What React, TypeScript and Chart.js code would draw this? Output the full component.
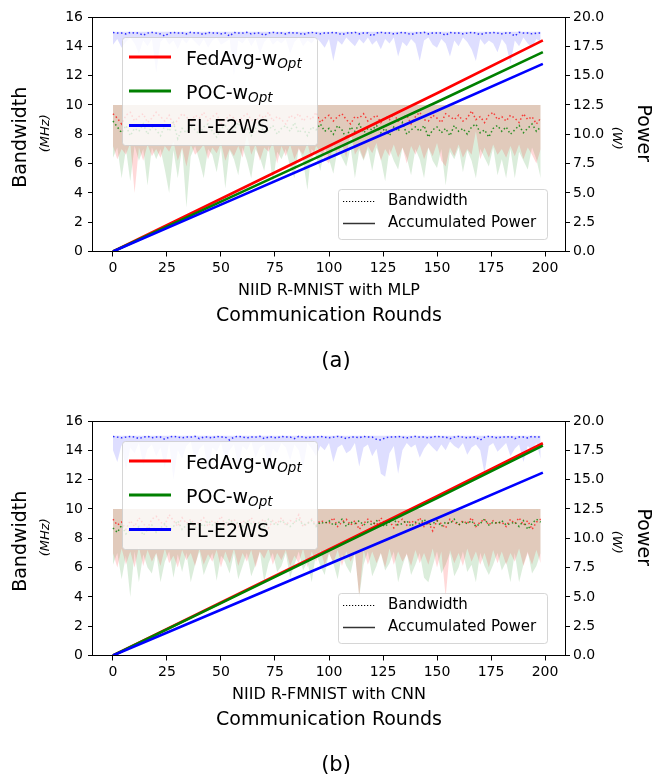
import React, { useEffect, useRef } from 'react';
import { Chart, registerables } from 'chart.js';

Chart.register(...registerables);

const FONT = "'DejaVu Sans', sans-serif";

// ---------------- data ----------------
const ROUNDS: number[] = [
  0, 2, 4, 6, 8, 10, 12, 14, 16, 18, 20, 22, 24, 26, 28, 30, 32, 34, 36, 38,
  40, 42, 44, 46, 48, 50, 52, 54, 56, 58, 60, 62, 64, 66, 68, 70, 72, 74, 76, 78,
  80, 82, 84, 86, 88, 90, 92, 94, 96, 98, 100, 102, 104, 106, 108, 110, 112, 114, 116, 118,
  120, 122, 124, 126, 128, 130, 132, 134, 136, 138, 140, 142, 144, 146, 148, 150, 152, 154, 156, 158,
  160, 162, 164, 166, 168, 170, 172, 174, 176, 178, 180, 182, 184, 186, 188, 190, 192, 194, 196, 198,
];
const POWER_ROUNDS: number[] = [0, 50, 100, 150, 199];
const X_TICKS: number[] = [0, 25, 50, 75, 100, 125, 150, 175, 200];
const Y_LEFT_TICKS: number[] = [0, 2, 4, 6, 8, 10, 12, 14, 16];
const Y_RIGHT_TICKS: number[] = [0, 2.5, 5, 7.5, 10, 12.5, 15, 17.5, 20];
const RG_BAND_TOP = 10;
const E2WS_BAND_TOP = 15;

// (a) NIID R-MNIST with MLP
const BW_E2WS_A: number[] = [
  14.95, 14.9, 14.9, 14.85, 14.95, 14.9, 14.9, 14.75, 14.9, 14.95,
  14.9, 14.85, 14.7, 14.9, 14.95, 14.9, 14.9, 14.85, 14.95, 14.9,
  14.9, 14.8, 14.95, 14.9, 14.9, 14.85, 14.9, 14.7, 14.95, 14.9,
  14.9, 14.95, 14.85, 14.9, 14.9, 14.75, 14.9, 14.95, 14.9, 14.9,
  14.85, 14.95, 14.9, 14.9, 14.8, 14.9, 14.95, 14.9, 14.85, 14.9,
  14.9, 14.95, 14.9, 14.8, 14.9, 14.9, 14.95, 14.85, 14.9, 14.9,
  14.7, 14.9, 14.95, 14.9, 14.9, 14.85, 14.9, 14.95, 14.9, 14.8,
  14.9, 14.9, 14.95, 14.85, 14.9, 14.9, 14.9, 14.75, 14.95, 14.9,
  14.9, 14.85, 14.9, 14.95, 14.9, 14.8, 14.9, 14.9, 14.95, 14.9,
  14.85, 14.9, 14.9, 14.7, 14.95, 14.9, 14.9, 14.85, 14.9, 14.9,
];
const LOW_E2WS_A: number[] = [
  14.1, 14.5, 13.9, 14.3, 14.6, 14.2, 13.5, 14.4, 14.0, 14.5,
  12.2, 14.3, 14.6, 14.1, 14.4, 13.8, 14.5, 14.2, 14.6, 14.3,
  14.0, 14.5, 13.9, 14.4, 14.6, 14.1, 14.3, 14.5, 12.0, 14.4,
  14.2, 14.6, 14.0, 14.5, 13.5, 14.3, 14.6, 14.1, 14.4, 14.2,
  14.5, 13.5, 14.3, 14.6, 14.0, 14.4, 14.2, 14.6, 14.3, 13.9,
  14.5, 13.0, 14.4, 14.1, 14.6, 14.3, 14.0, 14.5, 14.2, 14.6,
  14.1, 14.4, 13.8, 14.5, 14.2, 14.6, 13.3, 14.3, 14.0, 14.5,
  14.2, 13.0, 14.4, 14.6, 14.1, 13.9, 14.5, 14.2, 13.3, 14.4,
  14.0, 14.6, 14.3, 13.8, 13.0, 14.5, 14.1, 14.4, 14.2, 13.6,
  14.5, 14.1, 12.8, 14.4, 14.0, 14.6, 14.2, 13.9, 14.5, 14.3,
];
const BW_FEDAVG_A: number[] = [
  9.4, 9.1, 8.7, 9.3, 9.5, 8.9, 9.2, 9.4, 8.8, 9.1,
  9.5, 9.2, 8.9, 9.3, 8.6, 9.0, 9.4, 9.2, 8.8, 9.3,
  9.1, 9.5, 8.9, 9.2, 9.4, 8.7, 9.0, 9.3, 9.1, 8.8,
  9.2, 9.4, 9.0, 8.8, 9.3, 9.1, 9.5, 8.9, 9.2, 9.0,
  8.7, 9.3, 9.1, 9.4, 8.9, 9.2, 9.0, 9.5, 8.8, 9.1,
  9.3, 8.9, 9.2, 9.4, 9.0, 8.7, 9.2, 9.1, 9.4, 8.9,
  9.1, 9.3, 8.8, 9.2, 9.0, 9.4, 8.9, 9.1, 9.3, 8.7,
  9.2, 9.5, 9.0, 8.9, 9.3, 9.1, 8.8, 9.4, 9.2, 9.0,
  9.3, 8.9, 9.1, 9.6, 9.0, 9.2, 8.8, 9.3, 9.5, 9.0,
  9.2, 8.9, 9.3, 9.1, 8.8, 9.4, 9.0, 9.2, 8.7, 9.1,
];
const BW_POC_A: number[] = [
  8.9, 8.5, 8.1, 8.6, 7.9, 8.4, 8.2, 8.7, 8.0, 8.5,
  8.3, 7.9, 8.6, 8.2, 8.8, 7.7, 8.4, 8.1, 8.6, 8.3,
  8.0, 8.5, 8.7, 8.2, 7.8, 8.4, 8.6, 8.1, 8.3, 8.8,
  8.2, 8.5, 7.9, 8.4, 8.7, 8.1, 8.3, 8.6, 8.0, 8.4,
  8.6, 8.2, 8.8, 8.1, 8.4, 7.9, 8.5, 8.3, 8.7, 8.2,
  8.4, 8.0, 8.6, 8.3, 7.7, 8.5, 8.2, 8.7, 8.1, 8.4,
  8.3, 8.6, 8.1, 8.4, 7.9, 8.5, 8.2, 8.8, 8.0, 8.3,
  8.5, 8.2, 8.6, 7.8, 8.3, 8.5, 8.1, 8.4, 7.9, 8.6,
  8.2, 8.4, 8.0, 8.5, 8.7, 8.1, 8.3, 7.8, 8.4, 8.6,
  8.2, 8.5, 8.0, 8.3, 8.6, 8.1, 8.4, 8.7, 8.2, 8.5,
];
const LOW_FEDAVG_A: number[] = [
  7.2, 6.3, 7.0, 6.6, 7.4, 4.0, 7.1, 6.2, 7.3, 6.5,
  7.0, 6.4, 7.2, 6.8, 7.5, 6.2, 7.1, 5.8, 7.3, 6.6,
  6.9, 7.3, 6.3, 7.1, 6.7, 7.4, 6.2, 7.0, 6.5, 7.2,
  6.4, 8.0, 6.6, 7.3, 6.2, 7.1, 6.8, 7.4, 6.0, 7.2,
  6.5, 7.3, 6.3, 7.0, 6.6, 7.4, 6.2, 7.2, 6.8, 6.3,
  6.0, 7.2, 6.5, 7.3, 6.4, 8.2, 6.6, 7.1, 6.3, 7.2,
  6.7, 7.4, 6.2, 7.0, 6.5, 7.3, 6.4, 7.1, 6.0, 7.2,
  6.6, 7.3, 6.3, 7.1, 6.5, 7.4, 6.2, 5.8, 7.1, 6.5,
  7.3, 6.4, 7.0, 6.6, 8.2, 6.3, 7.1, 6.4, 7.3, 6.6,
  7.0, 6.4, 7.2, 6.5, 7.3, 6.3, 7.1, 6.6, 6.0, 7.0,
];
const LOW_POC_A: number[] = [
  6.4, 7.1, 5.0, 7.0, 4.8, 7.2, 6.2, 7.0, 4.5, 7.1,
  6.3, 7.0, 5.6, 4.0, 6.9, 5.0, 7.1, 3.0, 6.5, 7.2,
  6.2, 5.0, 7.0, 6.6, 5.4, 7.1, 4.3, 6.9, 6.3, 5.2,
  7.1, 6.2, 5.0, 7.0, 6.4, 5.5, 7.2, 4.6, 6.8, 6.3,
  7.0, 5.8, 5.0, 7.1, 6.2, 4.2, 7.0, 6.5, 5.5, 7.1,
  6.3, 5.3, 7.0, 6.4, 5.8, 7.1, 5.0, 6.9, 6.2, 7.0,
  5.5, 7.1, 6.3, 4.8, 7.0, 6.2, 5.6, 7.1, 6.4, 5.2,
  7.0, 6.3, 5.0, 7.1, 6.2, 5.7, 7.0, 4.5, 6.8, 6.3,
  7.1, 5.4, 6.9, 6.2, 5.0, 7.0, 6.4, 5.8, 7.1, 5.2,
  6.3, 5.0, 7.0, 5.0, 6.8, 6.2, 5.6, 7.1, 6.3, 5.0,
];
const POWER_FEDAVG_A: number[] = [0, 4.5, 9.0, 13.5, 18.0];
const POWER_POC_A: number[] = [0, 4.25, 8.5, 12.75, 17.0];
const POWER_E2WS_A: number[] = [0, 4.0, 8.0, 12.0, 16.0];

// (b) NIID R-FMNIST with CNN
const BW_E2WS_B: number[] = [
  14.95, 14.9, 14.85, 14.9, 14.95, 14.9, 14.8, 14.9, 14.95, 14.85,
  14.9, 14.9, 14.75, 14.9, 14.95, 14.9, 14.85, 14.9, 14.9, 14.95,
  14.8, 14.9, 14.9, 14.85, 14.95, 14.9, 14.9, 14.7, 14.9, 14.95,
  14.9, 14.85, 14.9, 14.9, 14.95, 14.8, 14.9, 14.9, 14.85, 14.95,
  14.9, 14.9, 14.8, 14.95, 14.9, 14.85, 14.9, 14.9, 14.95, 14.9,
  14.85, 14.9, 14.95, 14.9, 14.8, 14.9, 14.9, 14.85, 14.95, 14.9,
  14.9, 14.75, 14.7, 14.85, 14.9, 14.9, 14.95, 14.9, 14.85, 14.9,
  14.95, 14.9, 14.9, 14.85, 14.9, 14.95, 14.9, 14.9, 14.8, 14.9,
  14.95, 14.9, 14.85, 14.9, 14.9, 14.7, 14.9, 14.95, 14.9, 14.85,
  14.9, 14.9, 14.95, 14.8, 14.9, 14.9, 14.85, 14.95, 14.9, 14.9,
];
const LOW_E2WS_B: number[] = [
  14.0, 13.2, 14.4, 12.6, 14.2, 13.8, 14.5, 13.0, 14.1, 14.4,
  13.6, 14.2, 12.8, 14.5, 12.0, 14.0, 13.4, 14.3, 14.6, 13.2,
  14.1, 14.4, 12.5, 14.2, 13.9, 14.5, 13.3, 14.0, 14.4, 12.9,
  14.3, 14.0, 14.6, 13.5, 14.2, 14.4, 12.6, 14.1, 13.8, 14.5,
  14.2, 13.3, 14.4, 14.0, 12.8, 14.5, 14.1, 13.6, 14.3, 14.0,
  14.5, 13.2, 14.2, 14.4, 13.8, 14.0, 14.5, 12.9, 14.2, 14.4,
  13.6, 14.1, 12.4, 12.2, 13.8, 14.3, 12.4, 14.0, 14.5, 14.2,
  14.4, 13.5, 14.1, 14.5, 14.2, 13.9, 14.4, 14.0, 14.6, 14.3,
  14.1, 14.5, 13.7, 14.2, 14.4, 14.0, 12.4, 14.3, 14.5, 13.9,
  14.2, 14.5, 13.6, 14.1, 14.4, 13.2, 14.3, 14.0, 14.5, 13.4,
];
const BW_FEDAVG_B: number[] = [
  9.3, 8.9, 9.1, 8.6, 9.2, 8.8, 9.4, 9.0, 8.7, 9.3,
  9.5, 9.1, 8.9, 9.6, 9.2, 8.8, 9.4, 9.0, 9.3, 8.9,
  9.1, 9.4, 8.8, 9.2, 9.0, 9.5, 8.9, 9.1, 9.3, 8.8,
  9.2, 9.0, 9.4, 8.9, 9.1, 9.3, 8.7, 9.2, 9.0, 9.4,
  8.9, 9.2, 9.1, 9.6, 8.8, 9.0, 9.3, 8.9, 9.2, 9.1,
  9.0, 9.4, 8.8, 9.1, 9.3, 8.9, 9.2, 8.6, 9.0, 9.3,
  9.1, 8.9, 9.4, 9.0, 9.2, 8.7, 9.1, 9.3, 8.9, 9.2,
  9.0, 9.4, 8.8, 9.1, 8.5, 9.2, 9.0, 8.7, 9.3, 9.1,
  8.9, 9.2, 9.0, 9.4, 8.8, 9.1, 9.3, 8.9, 9.2, 9.0,
  9.1, 8.8, 9.3, 9.0, 9.4, 8.9, 9.2, 8.6, 9.1, 9.3,
];
const BW_POC_B: number[] = [
  8.7, 8.4, 8.9, 8.3, 8.6, 8.5, 8.8, 8.2, 8.6, 8.9,
  8.4, 8.7, 9.0, 8.5, 8.8, 9.2, 8.6, 8.9, 9.1, 8.7,
  9.0, 8.8, 9.2, 8.9, 9.1, 8.7, 9.0, 9.3, 8.9, 9.1,
  8.8, 9.2, 9.0, 8.9, 9.1, 8.8, 9.3, 9.0, 8.9, 9.2,
  9.0, 8.8, 9.1, 9.3, 8.9, 9.0, 9.2, 8.8, 9.1, 9.0,
  9.2, 8.9, 9.0, 9.3, 8.8, 9.1, 9.0, 9.2, 8.9, 9.1,
  8.9, 9.2, 9.0, 8.8, 9.1, 9.3, 8.9, 9.0, 9.2, 8.8,
  9.1, 9.0, 9.3, 8.9, 9.0, 9.2, 8.8, 9.1, 9.0, 9.3,
  8.9, 9.1, 9.0, 9.2, 8.8, 9.0, 9.3, 8.9, 9.1, 9.0,
  9.2, 8.9, 9.0, 9.1, 8.8, 9.2, 8.6, 9.0, 9.3, 9.1,
];
const LOW_FEDAVG_B: number[] = [
  7.0, 6.0, 7.3, 6.2, 7.1, 6.0, 7.4, 6.1, 7.2, 6.4,
  7.0, 6.1, 7.3, 6.3, 6.8, 6.0, 7.2, 6.5, 7.0, 6.1,
  7.3, 6.2, 6.9, 6.4, 7.2, 6.0, 7.1, 6.3, 7.3, 6.1,
  7.0, 6.4, 7.2, 6.0, 7.1, 6.6, 7.3, 6.2, 7.0, 6.5,
  7.2, 6.1, 6.8, 6.3, 7.3, 6.0, 7.1, 6.4, 7.2, 6.2,
  7.0, 6.3, 7.2, 6.1, 7.1, 6.4, 7.0, 4.0, 7.2, 6.2,
  7.1, 6.3, 7.0, 6.0, 7.3, 6.2, 7.1, 6.4, 6.9, 6.1,
  7.2, 6.3, 7.0, 6.2, 7.3, 6.0, 7.1, 4.0, 7.2, 6.3,
  7.0, 6.1, 7.3, 6.4, 7.1, 6.2, 7.0, 6.0, 7.2, 6.3,
  7.1, 6.2, 7.0, 6.4, 7.3, 6.1, 7.0, 6.2, 7.2, 6.3,
];
const LOW_POC_B: number[] = [
  6.2, 7.0, 5.2, 6.8, 4.0, 7.1, 5.0, 6.9, 6.0, 5.6,
  7.0, 5.0, 6.4, 7.1, 5.3, 6.9, 5.7, 7.0, 5.0, 6.2,
  7.1, 5.5, 6.3, 7.0, 5.1, 6.8, 6.4, 5.6, 7.0, 5.2,
  6.1, 7.0, 5.4, 6.2, 7.1, 5.0, 6.3, 7.0, 5.7, 6.1,
  7.0, 5.3, 6.2, 7.1, 5.8, 6.4, 5.0, 7.0, 6.1, 5.5,
  7.0, 6.3, 5.2, 6.9, 6.1, 5.6, 7.0, 4.0, 6.2, 7.1,
  5.4, 6.1, 7.0, 5.8, 6.3, 7.1, 5.0, 6.1, 7.0, 5.5,
  6.2, 7.0, 5.3, 5.0, 6.1, 7.1, 5.6, 6.2, 7.0, 5.4,
  6.0, 7.1, 5.7, 6.2, 5.0, 7.0, 6.1, 5.5, 6.2, 7.0,
  5.8, 6.4, 5.0, 7.0, 5.0, 6.2, 7.1, 5.6, 6.1, 7.0,
];
const POWER_FEDAVG_B: number[] = [0, 4.52, 9.05, 13.58, 18.1];
const POWER_POC_B: number[] = [0, 4.47, 8.95, 13.42, 17.9];
const POWER_E2WS_B: number[] = [0, 3.9, 7.8, 11.7, 15.6];

const SERIES_NAMES = ['FedAvg-w', 'POC-w', 'FL-E2WS'];
const SERIES_SUBS = ['Opt', 'Opt', ''];
const SERIES_COLORS = ['#ff0000', '#008000', '#0000ff'];

// ---------------- chart building ----------------
type PanelData = {
  bw: number[][];
  low: number[][];
  power: number[][];
  subLabel: string;
  caption: string;
};

const PANELS: PanelData[] = [
  {
    bw: [BW_FEDAVG_A, BW_POC_A, BW_E2WS_A],
    low: [LOW_FEDAVG_A, LOW_POC_A, LOW_E2WS_A],
    power: [POWER_FEDAVG_A, POWER_POC_A, POWER_E2WS_A],
    subLabel: 'NIID R-MNIST with MLP',
    caption: '(a)',
  },
  {
    bw: [BW_FEDAVG_B, BW_POC_B, BW_E2WS_B],
    low: [LOW_FEDAVG_B, LOW_POC_B, LOW_E2WS_B],
    power: [POWER_FEDAVG_B, POWER_POC_B, POWER_E2WS_B],
    subLabel: 'NIID R-FMNIST with CNN',
    caption: '(b)',
  },
];

const pts = (xs: number[], ys: number[]) => ys.map((y, i) => ({ x: xs[i], y }));

const CHART_TOP = 17;
const CHART_BOTTOM = 251.5;

function roundRectPath(ctx: CanvasRenderingContext2D, x: number, y: number, w: number, h: number, r: number) {
  ctx.beginPath();
  ctx.moveTo(x + r, y);
  ctx.lineTo(x + w - r, y);
  ctx.arcTo(x + w, y, x + w, y + r, r);
  ctx.lineTo(x + w, y + h - r);
  ctx.arcTo(x + w, y + h, x + w - r, y + h, r);
  ctx.lineTo(x + r, y + h);
  ctx.arcTo(x, y + h, x, y + h - r, r);
  ctx.lineTo(x, y + r);
  ctx.arcTo(x, y, x + r, y, r);
  ctx.closePath();
}

function decorPlugin(panel: PanelData) {
  return {
    id: 'decor',
    afterDraw(chart: any) {
      const ctx: CanvasRenderingContext2D = chart.ctx;
      const a = chart.chartArea;
      ctx.save();
      // frame
      ctx.strokeStyle = '#000';
      ctx.lineWidth = 1;
      ctx.setLineDash([]);
      ctx.strokeRect(Math.round(a.left) - 0.5, Math.round(a.top) + 0.5, Math.round(a.right - a.left) + 1, Math.round(a.bottom - a.top) - 1);

      const midY = (a.top + a.bottom) / 2;
      ctx.fillStyle = '#000';
      ctx.textAlign = 'center';
      ctx.textBaseline = 'middle';
      // left labels
      ctx.save();
      ctx.translate(21, midY + 3);
      ctx.rotate(-Math.PI / 2);
      ctx.font = `19px ${FONT}`;
      ctx.fillText('Bandwidth', 0, 0);
      ctx.restore();
      ctx.save();
      ctx.translate(46, midY - 1);
      ctx.rotate(-Math.PI / 2);
      ctx.font = `italic 13px ${FONT}`;
      ctx.fillText('(MHz)', 0, 0);
      ctx.restore();
      // right labels
      ctx.save();
      ctx.translate(643, midY - 1);
      ctx.rotate(Math.PI / 2);
      ctx.font = `19px ${FONT}`;
      ctx.fillText('Power', 0, 0);
      ctx.restore();
      ctx.save();
      ctx.translate(616, midY + 4);
      ctx.rotate(Math.PI / 2);
      ctx.font = `italic 13px ${FONT}`;
      ctx.fillText('(W)', 0, 0);
      ctx.restore();
      // x labels
      const cx = (a.left + a.right) / 2;
      ctx.font = `16px ${FONT}`;
      ctx.fillText(panel.subLabel, cx, 291);
      ctx.font = `19px ${FONT}`;
      ctx.fillText('Communication Rounds', cx, 316);
      ctx.font = `21px ${FONT}`;
      ctx.fillText(panel.caption, 336, 362);

      // legend 1 (methods)
      roundRectPath(ctx, 122.5, a.top + 20.5, 195, 108, 3);
      ctx.fillStyle = 'rgba(255,255,255,0.8)';
      ctx.fill();
      ctx.strokeStyle = 'rgba(204,204,204,0.8)';
      ctx.lineWidth = 1;
      ctx.stroke();
      const rowY = [a.top + 40, a.top + 74, a.top + 108.5];
      for (let i = 0; i < 3; i++) {
        ctx.strokeStyle = SERIES_COLORS[i];
        ctx.lineWidth = 3;
        ctx.beginPath();
        ctx.moveTo(129, rowY[i]);
        ctx.lineTo(171, rowY[i]);
        ctx.stroke();
        ctx.fillStyle = '#000';
        ctx.textAlign = 'left';
        ctx.textBaseline = 'alphabetic';
        ctx.font = `19px ${FONT}`;
        const base = rowY[i] + 7.5;
        ctx.fillText(SERIES_NAMES[i], 186, base);
        if (SERIES_SUBS[i]) {
          const w = ctx.measureText(SERIES_NAMES[i]).width;
          ctx.font = `italic 13.5px ${FONT}`;
          ctx.fillText(SERIES_SUBS[i], 186 + w, base + 3);
        }
      }

      // legend 2 (line styles)
      roundRectPath(ctx, 338.5, a.top + 172.5, 209, 50, 3);
      ctx.fillStyle = 'rgba(255,255,255,0.8)';
      ctx.fill();
      ctx.strokeStyle = 'rgba(204,204,204,0.8)';
      ctx.lineWidth = 1;
      ctx.stroke();
      ctx.strokeStyle = '#000';
      ctx.lineWidth = 1.2;
      ctx.setLineDash([1.2, 1.8]);
      ctx.beginPath();
      ctx.moveTo(343, a.top + 184.5);
      ctx.lineTo(375, a.top + 184.5);
      ctx.stroke();
      ctx.setLineDash([]);
      ctx.strokeStyle = '#333';
      ctx.lineWidth = 1.5;
      ctx.beginPath();
      ctx.moveTo(343, a.top + 206.5);
      ctx.lineTo(375, a.top + 206.5);
      ctx.stroke();
      ctx.fillStyle = '#000';
      ctx.font = `15px ${FONT}`;
      ctx.textAlign = 'left';
      ctx.textBaseline = 'middle';
      ctx.fillText('Bandwidth', 388, a.top + 184.5);
      ctx.fillText('Accumulated Power', 388, a.top + 206.5);
      ctx.restore();
    },
  };
}

function buildConfig(panel: PanelData, height: number): any {
  const [bwR, bwG, bwB] = panel.bw;
  const [lowR, lowG, lowB] = panel.low;
  const [pR, pG, pB] = panel.power;
  const base = { pointRadius: 0, tension: 0, borderCapStyle: 'butt' };
  const datasets: any[] = [
    // accumulated power (right axis)
    { ...base, data: pts(POWER_ROUNDS, pB), yAxisID: 'y2', borderColor: '#0000ff', borderWidth: 2.6, fill: false, order: 0 },
    { ...base, data: pts(POWER_ROUNDS, pG), yAxisID: 'y2', borderColor: '#008000', borderWidth: 2.6, fill: false, order: 1 },
    { ...base, data: pts(POWER_ROUNDS, pR), yAxisID: 'y2', borderColor: '#ff0000', borderWidth: 2.6, fill: false, order: 2 },
    // bandwidth dotted
    { ...base, data: pts(ROUNDS, bwB), yAxisID: 'y', borderColor: 'rgba(0,0,255,0.8)', borderWidth: 1.5, borderDash: [1.5, 2.5], fill: false, order: 3 },
    { ...base, data: pts(ROUNDS, bwG), yAxisID: 'y', borderColor: 'rgba(0,128,0,0.8)', borderWidth: 1.5, borderDash: [1.5, 2.5], fill: false, order: 4 },
    { ...base, data: pts(ROUNDS, bwR), yAxisID: 'y', borderColor: 'rgba(255,0,0,0.7)', borderWidth: 1.5, borderDash: [1.5, 2.5], fill: false, order: 5 },
    // shaded bands
    { ...base, data: pts(ROUNDS, lowR), yAxisID: 'y', borderColor: 'rgba(0,0,0,0)', borderWidth: 0, fill: { value: RG_BAND_TOP }, backgroundColor: 'rgba(255,0,0,0.15)', order: 6 },
    { ...base, data: pts(ROUNDS, lowG), yAxisID: 'y', borderColor: 'rgba(0,0,0,0)', borderWidth: 0, fill: { value: RG_BAND_TOP }, backgroundColor: 'rgba(0,128,0,0.14)', order: 7 },
    { ...base, data: pts(ROUNDS, lowB), yAxisID: 'y', borderColor: 'rgba(0,0,0,0)', borderWidth: 0, fill: { value: E2WS_BAND_TOP }, backgroundColor: 'rgba(0,0,255,0.13)', order: 8 },
  ];
  const tickFont = { family: FONT, size: 14 };
  const grid = { display: true, drawOnChartArea: false, drawTicks: true, tickLength: 5, tickColor: '#000', tickWidth: 1 };
  return {
    type: 'line',
    data: { datasets },
    options: {
      animation: false,
      responsive: false,
      devicePixelRatio: 1,
      layout: { padding: { top: CHART_TOP, left: 0, right: 0, bottom: 0 } },
      plugins: { legend: { display: false }, tooltip: { enabled: false } },
      scales: {
        x: {
          type: 'linear',
          min: -9.25,
          max: 209.25,
          grid,
          border: { display: false },
          ticks: { font: tickFont, color: '#000', padding: 3, maxRotation: 0, autoSkip: false, callback: (v: any) => String(v) },
          afterBuildTicks: (s: any) => { s.ticks = X_TICKS.map((v) => ({ value: v })); },
          afterFit: (s: any) => { s.height = height - CHART_BOTTOM; },
        },
        y: {
          type: 'linear',
          position: 'left',
          min: 0,
          max: 16,
          grid,
          border: { display: false },
          ticks: { font: tickFont, color: '#000', padding: 5, callback: (v: any) => String(v) },
          afterBuildTicks: (s: any) => { s.ticks = Y_LEFT_TICKS.map((v) => ({ value: v })); },
          afterFit: (s: any) => { s.width = 93; },
        },
        y2: {
          type: 'linear',
          position: 'right',
          min: 0,
          max: 20,
          grid,
          border: { display: false },
          ticks: { font: tickFont, color: '#000', padding: 3, callback: (v: any) => Number(v).toFixed(1) },
          afterBuildTicks: (s: any) => { s.ticks = Y_RIGHT_TICKS.map((v) => ({ value: v })); },
          afterFit: (s: any) => { s.width = 94; },
        },
      },
    },
    plugins: [decorPlugin(panel)],
  };
}

function Panel({ panel, top, height }: { panel: PanelData; top: number; height: number }) {
  const ref = useRef<HTMLCanvasElement>(null);
  useEffect(() => {
    const chart = new Chart(ref.current as HTMLCanvasElement, buildConfig(panel, height));
    return () => chart.destroy();
  }, [panel, height]);
  return (
    <canvas
      ref={ref}
      width={659}
      height={height}
      style={{ position: 'absolute', left: 0, top, width: 659, height, display: 'block' }}
    />
  );
}

export default function App() {
  return (
    <div style={{ position: 'absolute', left: 0, top: 0, width: 659, height: 781, background: '#fff', overflow: 'hidden' }}>
      <Panel panel={PANELS[0]} top={0} height={404} />
      <Panel panel={PANELS[1]} top={404} height={377} />
    </div>
  );
}
